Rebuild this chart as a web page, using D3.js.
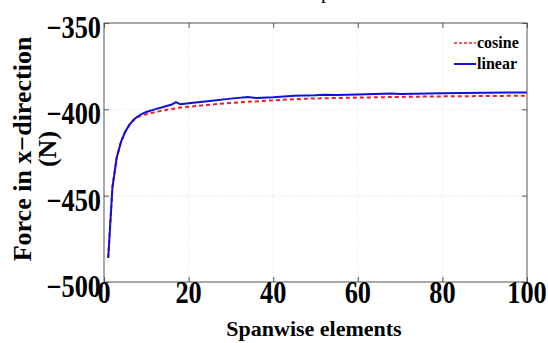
<!DOCTYPE html>
<html><head><meta charset="utf-8">
<script src="https://cdn.jsdelivr.net/npm/d3@7"></script>
<style>body{margin:0;background:#fff}svg{display:block}</style>
</head><body>
<svg id="c" width="548" height="343"></svg>
<script>
const linearX = [1,2,3,4,5,6,7,8,9,10,12,14,16,17,18,20,25,30,34,36,40,45,50,52,55,60,68,70,80,90,100];
const linearY = [-486,-445,-428,-419,-413,-409,-406,-404,-402.6,-401.5,-400,-398.6,-397.2,-395.8,-397,-396.5,-395.2,-393.8,-392.8,-393.4,-393,-392.2,-391.9,-391.5,-391.7,-391.4,-390.9,-391.1,-390.7,-390.4,-390.2];
const cosineX = [1,2,3,4,5,6,7,8,9,10,12,14,16,18,20,25,30,35,40,45,50,60,70,80,90,100];
const cosineY = [-486,-445,-428,-419,-413,-409,-406.3,-404.5,-403.5,-402.8,-401.7,-400.6,-399.8,-399,-398.5,-397.3,-396.3,-395.5,-394.8,-394.1,-393.7,-393.2,-392.8,-392.5,-392.3,-392.1];
const xTicks = [0,20,40,60,80,100];
const yTicks = [-500,-450,-400,-350];
const seriesNames = ["cosine","linear"];
const seriesColors = ["#e8202a","#1010d8"];

const svg = d3.select("#c");
const L=104,R=527,T=23,B=282;
const x = d3.scaleLinear().domain([0,100]).range([L,R]);
const y = d3.scaleLinear().domain([-500,-350]).range([B,T]);
const font = "'Liberation Serif','Times New Roman',serif";

// grid
const g = svg.append("g");
g.selectAll(".gx").data(xTicks.slice(1,-1)).join("line")
 .attr("x1",d=>x(d)).attr("x2",d=>x(d)).attr("y1",T).attr("y2",B)
 .attr("stroke","#d8d8d8").attr("stroke-width",0.8).attr("stroke-dasharray","1,2");
g.selectAll(".gy").data(yTicks.slice(1,-1)).join("line")
 .attr("y1",d=>y(d)).attr("y2",d=>y(d)).attr("x1",L).attr("x2",R)
 .attr("stroke","#d8d8d8").attr("stroke-width",0.8).attr("stroke-dasharray","1,2");

// lines
const lineGen = d3.line().x(d=>x(d[0])).y(d=>y(d[1]));
const cos = cosineX.map((v,i)=>[v,cosineY[i]]);
const lin = linearX.map((v,i)=>[v,linearY[i]]);
svg.append("path").attr("d",lineGen(cos)).attr("fill","none")
 .attr("stroke",seriesColors[0]).attr("stroke-width",2).attr("stroke-dasharray","4,3");
svg.append("path").attr("d",lineGen(lin)).attr("fill","none")
 .attr("stroke",seriesColors[1]).attr("stroke-width",2);

// axes box
const axCol="#555";
svg.append("rect").attr("x",L).attr("y",T).attr("width",R-L).attr("height",B-T)
 .attr("fill","none").attr("stroke",axCol).attr("stroke-width",1);
const xb = svg.append("g").attr("transform",`translate(0,${B})`)
 .call(d3.axisBottom(x).tickValues(xTicks).tickSize(-5).tickFormat(""));
const xt = svg.append("g").attr("transform",`translate(0,${T})`)
 .call(d3.axisTop(x).tickValues(xTicks).tickSize(-5).tickFormat(""));
const yl = svg.append("g").attr("transform",`translate(${L},0)`)
 .call(d3.axisLeft(y).tickValues(yTicks).tickSize(-5).tickFormat(""));
const yr = svg.append("g").attr("transform",`translate(${R},0)`)
 .call(d3.axisRight(y).tickValues(yTicks).tickSize(-5).tickFormat(""));
[xb,xt,yl,yr].forEach(a=>{a.select(".domain").remove();a.selectAll("line").attr("stroke",axCol);});

// tick labels
svg.selectAll(".xl").data(xTicks).join("text")
 .attr("x",d=>x(d)).attr("y",303).attr("text-anchor","middle")
 .attr("font-family",font).attr("font-weight","bold").attr("font-size",31)
 .attr("transform",d=>`translate(${x(d)},0) scale(0.85,1) translate(${-x(d)},0)`)
 .text(d=>d);
svg.selectAll(".yl").data(yTicks).join("text")
 .attr("x",101).attr("y",d=>y(d)+15).attr("text-anchor","end")
 .attr("font-family",font).attr("font-weight","bold").attr("font-size",31)
 .attr("transform",`translate(101,0) scale(0.85,1) translate(-101,0)`)
 .text(d=>"\u2212"+Math.abs(d));

// axis labels
svg.append("text").attr("x",314).attr("y",336).attr("text-anchor","middle")
 .attr("font-family",font).attr("font-weight","bold").attr("font-size",22)
 .text("Spanwise elements");
svg.append("text").attr("transform","translate(31,149) rotate(-90)").attr("text-anchor","middle")
 .attr("font-family",font).attr("font-weight","bold").attr("font-size",26)
 .text("Force in x\u2212direction");
svg.append("text").attr("transform","translate(56,149) rotate(-90)").attr("text-anchor","middle")
 .attr("font-family",font).attr("font-weight","bold").attr("font-size",26)
 .text("(N)");

// clipped title
svg.append("text").attr("x",321).attr("y",-2).attr("font-family",font).attr("font-size",20)
 .text("p");

// legend
const ly=[43,64];
seriesNames.forEach((n,i)=>{
  svg.append("line").attr("x1",454).attr("x2",476).attr("y1",ly[i]).attr("y2",ly[i])
   .attr("stroke",seriesColors[i]).attr("stroke-width",i==0?1.5:2)
   .attr("stroke-dasharray",i==0?"3,2":null);
  svg.append("text").attr("x",477).attr("y",ly[i]+5).attr("font-family",font)
   .attr("font-weight","bold").attr("font-size",16).text(n);
});
</script>
</body></html>
